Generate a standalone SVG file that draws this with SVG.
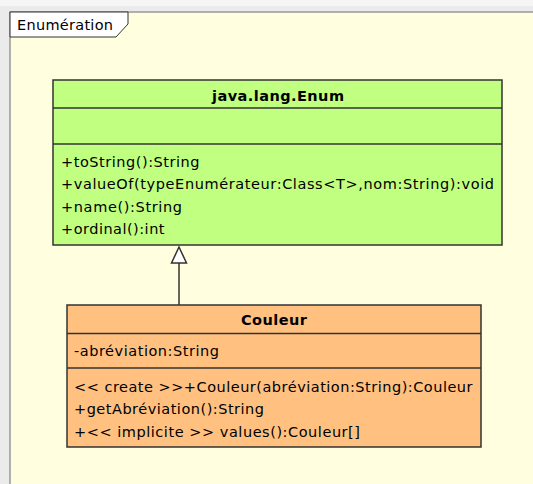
<svg xmlns="http://www.w3.org/2000/svg" width="533" height="484" viewBox="0 0 533 484">
<style>
text { font-family: "DejaVu Sans", "Liberation Sans", sans-serif; font-size: 14.5px; fill: #000; }
.title { font-weight: bold; text-anchor: middle; }
.box { stroke: #333; stroke-width: 1.5; }
.enum { fill: #C0FF80; }
.coul { fill: #FFC080; }
.sep { stroke: #333; stroke-width: 1.5; }
</style>
<rect x="0" y="0" width="533" height="484" fill="#EBEBEB"/>
<rect x="0" y="0" width="533" height="6" fill="#F6F6F6"/>
<g id="frame">
<rect x="10" y="12" width="523" height="472" fill="#FFFFE0"/>
<path d="M10 484 V12 H533" fill="none" stroke="#999" stroke-width="1.5"/>
<path d="M10 12 H128 V24 L116 37 H10 Z" fill="#fff" stroke="#333" stroke-width="1"/>
<text x="17" y="30" textLength="96">Enumération</text>
</g>
<g id="enum">
<rect class="box enum" x="53" y="80" width="449" height="165"/>
<line class="sep" x1="53" y1="108" x2="502" y2="108"/>
<line class="sep" x1="53" y1="144" x2="502" y2="144"/>
<text class="title" x="278" y="101" textLength="132">java.lang.Enum</text>
<text x="61" y="167" textLength="138.5">+toString():String</text>
<text x="61" y="189" textLength="433">+valueOf(typeEnumérateur:Class&lt;T&gt;,nom:String):void</text>
<text x="61" y="212" textLength="121">+name():String</text>
<text x="61" y="234" textLength="103.5">+ordinal():int</text>
</g>
<g id="couleur">
<rect class="box coul" x="67" y="305" width="414" height="142"/>
<line class="sep" x1="67" y1="333.5" x2="481" y2="333.5"/>
<line class="sep" x1="67" y1="368" x2="481" y2="368"/>
<text class="title" x="274" y="325" textLength="66">Couleur</text>
<text x="74" y="356" textLength="145">-abréviation:String</text>
<text x="74" y="392" textLength="398.5">&lt;&lt; create &gt;&gt;+Couleur(abréviation:String):Couleur</text>
<text x="74" y="414" textLength="190">+getAbréviation():String</text>
<text x="74" y="437" textLength="286">+&lt;&lt; implicite &gt;&gt; values():Couleur[]</text>
</g>
<g id="connectors">
<line x1="179" y1="263" x2="179" y2="305" stroke="#333" stroke-width="1.5"/>
<path d="M179 247 L186.5 263 H171.5 Z" fill="#fff" stroke="#333" stroke-width="1.5"/>
</g>
</svg>
